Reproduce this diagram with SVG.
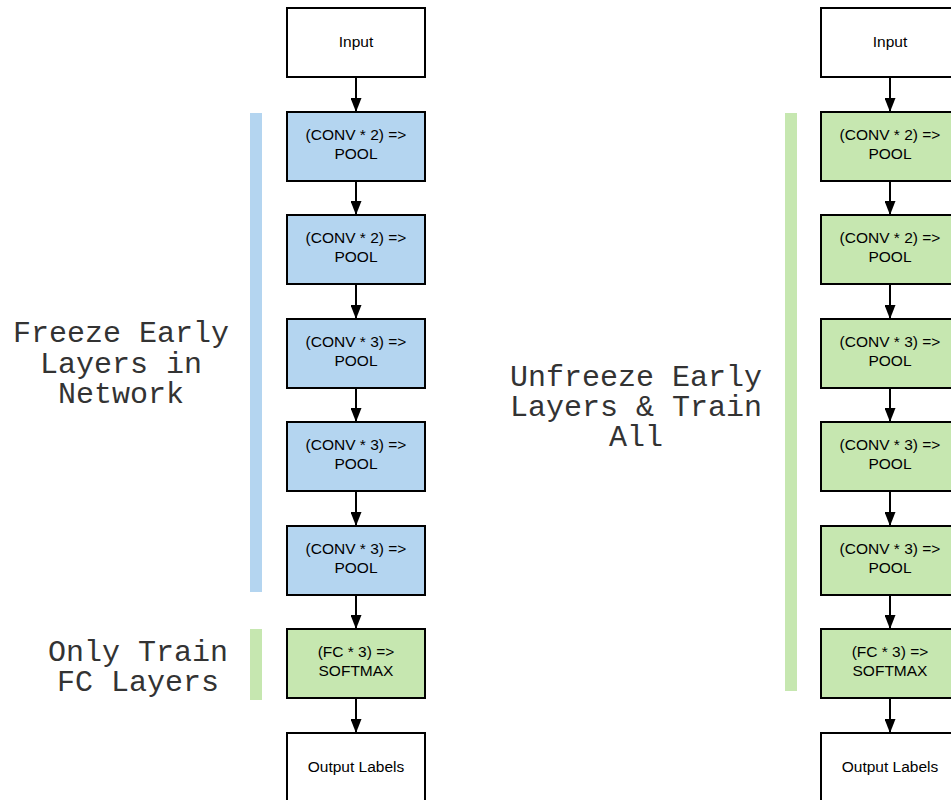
<svg xmlns="http://www.w3.org/2000/svg" width="951" height="800" viewBox="0 0 951 800">
<defs>
<style>
.box{stroke:#000;stroke-width:2}
.w{fill:#fff}
.b{fill:#b4d5f0}
.g{fill:#c6e7b0}
.t{font-family:"Liberation Sans",Arial,sans-serif;font-size:15.5px;fill:#000;text-anchor:middle}
.m{font-family:"Liberation Mono","Courier New",monospace;font-size:30px;fill:#333;text-anchor:middle}
.c{stroke:#000;stroke-width:2;fill:none}
</style>
<marker id="ah2" markerWidth="14" markerHeight="11" refX="14" refY="5.5" orient="auto" markerUnits="userSpaceOnUse" viewBox="0 0 14 11">
<path d="M0,0 L14,5.5 L0,11 z" fill="#000"/>
</marker>
</defs>
<rect width="951" height="800" fill="#fff"/>

<g id="bars">
<rect x="250" y="113" width="12" height="479" fill="#b4d5f0"/>
<rect x="250" y="629" width="12" height="71" fill="#c6e7b0"/>
<rect x="785" y="113" width="12" height="578" fill="#c6e7b0"/>
</g>

<g id="labels">
<text class="m" x="121" y="342">Freeze Early</text>
<text class="m" x="121" y="373">Layers in</text>
<text class="m" x="121" y="403">Network</text>
<text class="m" x="138" y="661">Only Train</text>
<text class="m" x="138" y="691">FC Layers</text>
<text class="m" x="636" y="386">Unfreeze Early</text>
<text class="m" x="636" y="416">Layers &amp; Train</text>
<text class="m" x="636" y="446">All</text>
</g>

<g id="connectors">
<line class="c" x1="356" y1="78" x2="356" y2="112" marker-end="url(#ah2)"/>
<line class="c" x1="356" y1="182" x2="356" y2="215" marker-end="url(#ah2)"/>
<line class="c" x1="356" y1="285" x2="356" y2="319" marker-end="url(#ah2)"/>
<line class="c" x1="356" y1="389" x2="356" y2="422" marker-end="url(#ah2)"/>
<line class="c" x1="356" y1="492" x2="356" y2="526" marker-end="url(#ah2)"/>
<line class="c" x1="356" y1="596" x2="356" y2="629" marker-end="url(#ah2)"/>
<line class="c" x1="356" y1="699" x2="356" y2="733" marker-end="url(#ah2)"/>
<line class="c" x1="890" y1="78" x2="890" y2="112" marker-end="url(#ah2)"/>
<line class="c" x1="890" y1="182" x2="890" y2="215" marker-end="url(#ah2)"/>
<line class="c" x1="890" y1="285" x2="890" y2="319" marker-end="url(#ah2)"/>
<line class="c" x1="890" y1="389" x2="890" y2="422" marker-end="url(#ah2)"/>
<line class="c" x1="890" y1="492" x2="890" y2="526" marker-end="url(#ah2)"/>
<line class="c" x1="890" y1="596" x2="890" y2="629" marker-end="url(#ah2)"/>
<line class="c" x1="890" y1="699" x2="890" y2="733" marker-end="url(#ah2)"/>
</g>

<g id="L-input"><rect class="box w" x="287" y="8" width="138" height="69"/><text class="t" x="356" y="47">Input</text></g>
<g id="L-conv1"><rect class="box b" x="287" y="112" width="138" height="69"/><text class="t" x="356" y="140">(CONV * 2) =&gt;</text><text class="t" x="356" y="159">POOL</text></g>
<g id="L-conv2"><rect class="box b" x="287" y="215" width="138" height="69"/><text class="t" x="356" y="243">(CONV * 2) =&gt;</text><text class="t" x="356" y="262">POOL</text></g>
<g id="L-conv3"><rect class="box b" x="287" y="319" width="138" height="69"/><text class="t" x="356" y="347">(CONV * 3) =&gt;</text><text class="t" x="356" y="366">POOL</text></g>
<g id="L-conv4"><rect class="box b" x="287" y="422" width="138" height="69"/><text class="t" x="356" y="450">(CONV * 3) =&gt;</text><text class="t" x="356" y="469">POOL</text></g>
<g id="L-conv5"><rect class="box b" x="287" y="526" width="138" height="69"/><text class="t" x="356" y="554">(CONV * 3) =&gt;</text><text class="t" x="356" y="573">POOL</text></g>
<g id="L-fc"><rect class="box g" x="287" y="629" width="138" height="69"/><text class="t" x="356" y="657">(FC * 3) =&gt;</text><text class="t" x="356" y="676">SOFTMAX</text></g>
<g id="L-output"><rect class="box w" x="287" y="733" width="138" height="69"/><text class="t" x="356" y="772">Output Labels</text></g>

<g id="R-input"><rect class="box w" x="821" y="8" width="138" height="69"/><text class="t" x="890" y="47">Input</text></g>
<g id="R-conv1"><rect class="box g" x="821" y="112" width="138" height="69"/><text class="t" x="890" y="140">(CONV * 2) =&gt;</text><text class="t" x="890" y="159">POOL</text></g>
<g id="R-conv2"><rect class="box g" x="821" y="215" width="138" height="69"/><text class="t" x="890" y="243">(CONV * 2) =&gt;</text><text class="t" x="890" y="262">POOL</text></g>
<g id="R-conv3"><rect class="box g" x="821" y="319" width="138" height="69"/><text class="t" x="890" y="347">(CONV * 3) =&gt;</text><text class="t" x="890" y="366">POOL</text></g>
<g id="R-conv4"><rect class="box g" x="821" y="422" width="138" height="69"/><text class="t" x="890" y="450">(CONV * 3) =&gt;</text><text class="t" x="890" y="469">POOL</text></g>
<g id="R-conv5"><rect class="box g" x="821" y="526" width="138" height="69"/><text class="t" x="890" y="554">(CONV * 3) =&gt;</text><text class="t" x="890" y="573">POOL</text></g>
<g id="R-fc"><rect class="box g" x="821" y="629" width="138" height="69"/><text class="t" x="890" y="657">(FC * 3) =&gt;</text><text class="t" x="890" y="676">SOFTMAX</text></g>
<g id="R-output"><rect class="box w" x="821" y="733" width="138" height="69"/><text class="t" x="890" y="772">Output Labels</text></g>
</svg>
